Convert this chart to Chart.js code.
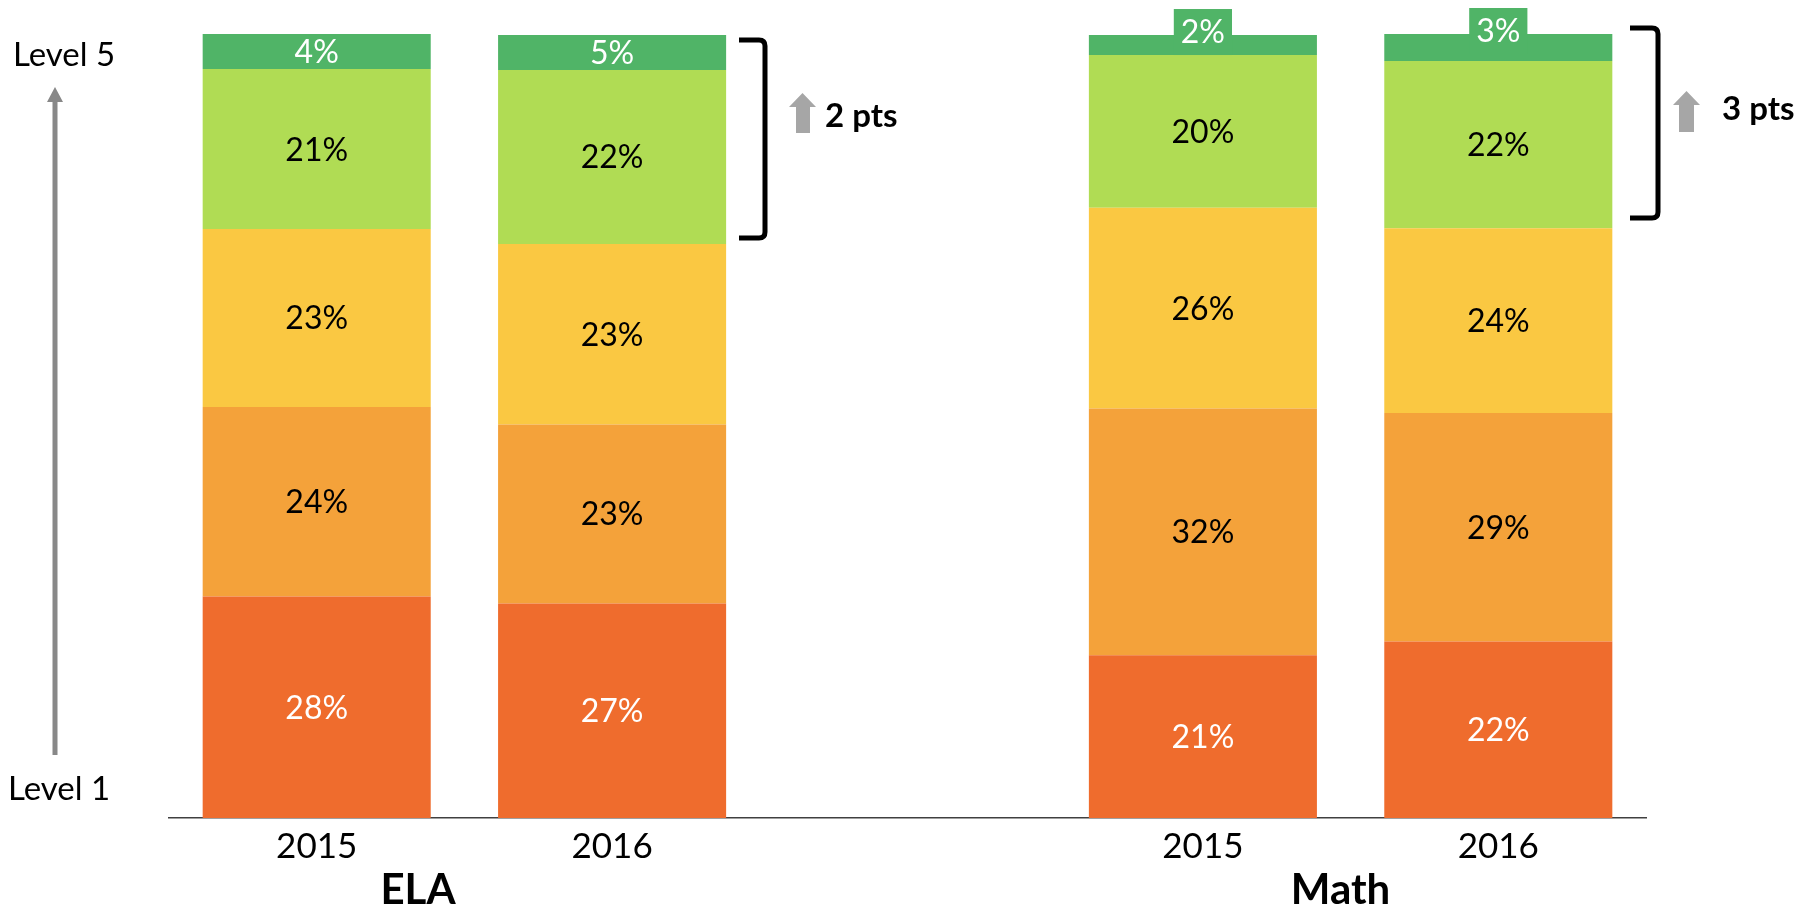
<!DOCTYPE html>
<html><head><meta charset="utf-8">
<script src="https://cdn.jsdelivr.net/npm/chart.js@4.4.1/dist/chart.umd.min.js"></script>
<style>html,body{margin:0;padding:0;background:#fff;}#wrap{width:1809px;height:907px;position:relative;}</style>
</head><body><div id="wrap"><canvas id="c"></canvas></div>
<script>
// ---- data ----
const categories = ['2015', '2016', '', '2015', '2016'];
const groupNames = ['ELA', 'Math'];
const level1 = [28.25, 27.37, null, 20.75, 22.51];
const level2 = [24.17, 22.81, null, 31.49, 29.15];
const level3 = [22.70, 23.04, null, 25.60, 23.55];
const level4 = [20.41, 22.19, null, 19.48, 21.35];
const level5 = [4.46, 4.46, null, 2.55, 3.44];
const level1Labels = ['28%', '27%', '', '21%', '22%'];
const level2Labels = ['24%', '23%', '', '32%', '29%'];
const level3Labels = ['23%', '23%', '', '26%', '24%'];
const level4Labels = ['21%', '22%', '', '20%', '22%'];
const level5Labels = ['4%', '5%', '', '2%', '3%'];
const changeLabels = ['2 pts', '3 pts'];
const axisLabels = ['Level 5', 'Level 1'];

const colors = ['#EF6C2D', '#F4A23A', '#FAC842', '#B0DC54', '#50B467'];
const labelColors = ['#FFFFFF', '#000000', '#000000', '#000000', '#FFFFFF'];
const allLabels = [level1Labels, level2Labels, level3Labels, level4Labels, level5Labels];

const labelPlugin = {
  id: 'segLabels',
  afterDatasetsDraw(chart) {
    const ctx = chart.ctx;
    const size = 32;
    chart.data.datasets.forEach((ds, di) => {
      const meta = chart.getDatasetMeta(di);
      meta.data.forEach((bar, i) => {
        const txt = allLabels[di][i];
        if (!txt) return;
        const top = Math.min(bar.y, bar.base), bottom = Math.max(bar.y, bar.base);
        let cy = (top + bottom) / 2;
        ctx.save();
        ctx.font = size + 'px Lato';
        ctx.textAlign = 'center';
        ctx.textBaseline = 'alphabetic';
        if (bottom - top < 30) {
          cy = top - 3;
          const w = ctx.measureText(txt).width + 14;
          ctx.fillStyle = ds.backgroundColor;
          ctx.fillRect(bar.x - w / 2, cy - 23, w, 46);
        }
        ctx.fillStyle = labelColors[di];
        ctx.fillText(txt, bar.x, cy + 0.358 * size);
        ctx.restore();
      });
    });
  }
};

const annotPlugin = {
  id: 'annot',
  afterDraw(chart) {
    const ctx = chart.ctx;
    const xs = chart.scales.x;
    ctx.save();
    // group names
    ctx.fillStyle = '#000';
    ctx.font = 'bold 42px Lato';
    ctx.textAlign = 'center';
    ctx.textBaseline = 'alphabetic';
    ctx.fillText(groupNames[0], xs.getPixelForValue(0.343), 904);
    ctx.fillText(groupNames[1], xs.getPixelForValue(3.466), 904);
    // level labels
    ctx.font = '33px Lato';
    ctx.textAlign = 'left';
    ctx.fillText(axisLabels[0], 13, 66);
    ctx.fillText(axisLabels[1], 8, 800);
    // long gray arrow
    ctx.strokeStyle = '#888888';
    ctx.lineWidth = 5;
    ctx.beginPath();
    ctx.moveTo(55, 755);
    ctx.lineTo(55, 98);
    ctx.stroke();
    ctx.fillStyle = '#888888';
    ctx.beginPath();
    ctx.moveTo(55, 87);
    ctx.lineTo(63, 102);
    ctx.lineTo(47, 102);
    ctx.closePath();
    ctx.fill();
    // brackets
    function bracket(x0, x1, y0, y1) {
      ctx.strokeStyle = '#000';
      ctx.lineWidth = 5;
      ctx.lineCap = 'butt';
      ctx.beginPath();
      ctx.moveTo(x0, y0);
      ctx.lineTo(x1 - 6, y0);
      ctx.quadraticCurveTo(x1, y0, x1, y0 + 6);
      ctx.lineTo(x1, y1 - 6);
      ctx.quadraticCurveTo(x1, y1, x1 - 6, y1);
      ctx.lineTo(x0, y1);
      ctx.stroke();
    }
    bracket(739, 765, 40, 238);
    bracket(1630, 1658, 28, 218);
    // block arrows
    function blockArrow(xl, xr, tip, headBase, sl, sr, bottom) {
      ctx.fillStyle = '#A6A6A6';
      ctx.beginPath();
      ctx.moveTo((xl + xr) / 2, tip);
      ctx.lineTo(xr, headBase);
      ctx.lineTo(sr, headBase);
      ctx.lineTo(sr, bottom);
      ctx.lineTo(sl, bottom);
      ctx.lineTo(sl, headBase);
      ctx.lineTo(xl, headBase);
      ctx.closePath();
      ctx.fill();
    }
    blockArrow(789, 816, 93, 107, 796, 810, 133);
    blockArrow(1673, 1700, 91, 105, 1679, 1694, 132);
    ctx.fillStyle = '#000';
    ctx.font = 'bold 33px Lato';
    ctx.textAlign = 'left';
    ctx.fillText(changeLabels[0], 825, 127);
    ctx.fillText(changeLabels[1], 1722, 120);
    ctx.restore();
  }
};

const mk = (label, data, i) => ({ label, data, backgroundColor: colors[i], borderWidth: 0 });

new Chart(document.getElementById('c'), {
  type: 'bar',
  data: {
    labels: categories,
    datasets: [
      mk('Level 1', level1, 0),
      mk('Level 2', level2, 1),
      mk('Level 3', level3, 2),
      mk('Level 4', level4, 3),
      mk('Level 5', level5, 4)
    ]
  },
  options: {
    responsive: true,
    maintainAspectRatio: false,
    animation: false,
    layout: { padding: { left: 169, right: 163, top: 34, bottom: 0 } },
    plugins: { legend: { display: false }, tooltip: { enabled: false } },
    datasets: { bar: { barPercentage: 0.772, categoryPercentage: 1 } },
    scales: {
      x: {
        stacked: true,
        grid: { display: false, drawTicks: false },
        border: { display: true, color: '#404040', width: 1.5 },
        ticks: { font: { family: 'Lato', size: 35 }, color: '#000', padding: 8, maxRotation: 0, autoSkip: false },
        afterFit(s) { s.height = 89; }
      },
      y: { stacked: true, display: false, min: 0, max: 100 }
    }
  },
  plugins: [labelPlugin, annotPlugin]
});
</script>
</body></html>
